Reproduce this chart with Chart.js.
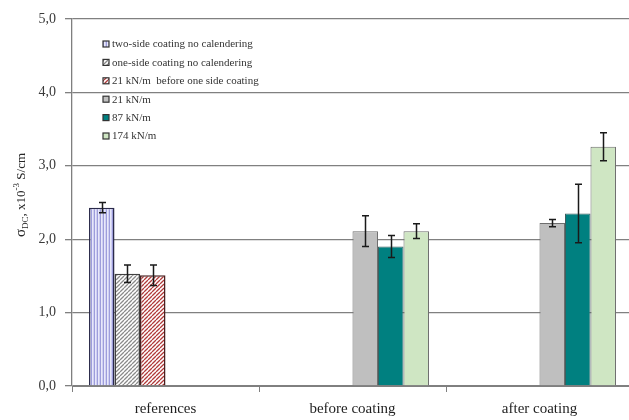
<!DOCTYPE html>
<html>
<head>
<meta charset="utf-8">
<script src="https://cdn.jsdelivr.net/npm/chart.js@4/dist/chart.umd.min.js"></script>
<style>
  html, body { margin: 0; padding: 0; background: #fff; overflow: hidden; }
  #wrap { width: 629px; height: 420px; overflow: hidden; }
  canvas { display: block; }
</style>
</head>
<body>
<div id="wrap"><canvas id="c" width="640" height="420"></canvas></div>
<script>
// Categories and measured conductivity (x10^-3 S/cm) with error margins
const categories = ['references', 'before coating', 'after coating'];
const seriesNames = [
  'two-side coating no calendering',
  'one-side coating no calendering',
  '21 kN/m  before one side coating',
  '21 kN/m',
  '87 kN/m',
  '174 kN/m'
];
const twoSideNoCal   = [2.43, null, null];
const oneSideNoCal   = [1.53, null, null];
const kn21BeforeOne  = [1.51, null, null];
const kn21           = [null, 2.11, 2.22];
const kn87           = [null, 1.90, 2.35];
const kn174          = [null, 2.11, 3.26];

const errTwoSide  = [0.07, null, null];
const errOneSide  = [0.12, null, null];
const errKn21Bef  = [0.14, null, null];
const errKn21     = [null, 0.21, 0.05];
const errKn87     = [null, 0.15, 0.40];
const errKn174    = [null, 0.10, 0.19];

const yTicks = [0, 1, 2, 3, 4, 5];

// Fill patterns
function stripePattern() {
  const p = document.createElement('canvas');
  p.width = 3; p.height = 1;
  const g = p.getContext('2d');
  const cols = ['#cfcff3', '#9d9ddb', '#e8e8fa'];
  cols.forEach((c, i) => { g.fillStyle = c; g.fillRect(i, 0, 1, 1); });
  return g.createPattern(p, 'repeat');
}
function diagPattern(line) {
  const s = 4;
  const p = document.createElement('canvas');
  p.width = s; p.height = s;
  const g = p.getContext('2d');
  g.fillStyle = '#ffffff';
  g.fillRect(0, 0, s, s);
  g.strokeStyle = line;
  g.lineWidth = 1.3;
  g.beginPath();
  for (let k = -1; k <= 1; k++) {
    g.moveTo(k * s, s);
    g.lineTo(k * s + s, 0);
  }
  g.stroke();
  return g.createPattern(p, 'repeat');
}

const fills = [stripePattern(), diagPattern('#8a8a8a'), diagPattern('#b03a3a'), '#bfbfbf', '#008080', '#cfe6c3'];
const borders = ['#2a2a4a', '#404040', '#4a2020', '#6e6e6e', '#3e5e5e', '#6e6e6e'];
const values = [twoSideNoCal, oneSideNoCal, kn21BeforeOne, kn21, kn87, kn174];
const errors = [errTwoSide, errOneSide, errKn21Bef, errKn21, errKn87, errKn174];

const datasets = seriesNames.map((name, i) => ({
  label: name,
  data: values[i],
  errors: errors[i],
  backgroundColor: fills[i],
  borderColor: borders[i],
  borderWidth: i < 3 ? 1.5 : 1,
  categoryPercentage: 0.818,
  barPercentage: 1.0
}));

const serif = "'Liberation Serif', 'Times New Roman', serif";

// Error bars drawn from the data through the value scale
const errorBars = {
  id: 'errorBars',
  afterDatasetsDraw(chart) {
    const ctx = chart.ctx;
    const ys = chart.scales.y;
    ctx.save();
    ctx.strokeStyle = '#1a1a1a';
    ctx.lineWidth = 1.5;
    chart.data.datasets.forEach((ds, di) => {
      const meta = chart.getDatasetMeta(di);
      meta.data.forEach((el, idx) => {
        const v = ds.data[idx], e = ds.errors[idx];
        if (v == null || e == null) return;
        const x = Math.round(el.x) + 0.5;
        const yT = ys.getPixelForValue(v + e);
        const yB = ys.getPixelForValue(v - e);
        ctx.beginPath();
        ctx.moveTo(x, yT); ctx.lineTo(x, yB);
        ctx.moveTo(x - 3.5, yT); ctx.lineTo(x + 3.5, yT);
        ctx.moveTo(x - 3.5, yB); ctx.lineTo(x + 3.5, yB);
        ctx.stroke();
      });
    });
    ctx.restore();
  }
};

// Legend in the upper-left of the plot
const insideLegend = {
  id: 'insideLegend',
  afterDraw(chart) {
    const ctx = chart.ctx;
    const x0 = chart.chartArea.left + 31;
    const y0 = chart.chartArea.top + 25;
    const step = 18.4;
    ctx.save();
    ctx.font = '11px ' + serif;
    ctx.textBaseline = 'middle';
    ctx.textAlign = 'left';
    chart.data.datasets.forEach((ds, i) => {
      const y = y0 + i * step;
      ctx.fillStyle = ds.backgroundColor;
      ctx.fillRect(x0, y - 3, 6, 6);
      ctx.strokeStyle = '#333';
      ctx.lineWidth = 1.2;
      ctx.strokeRect(x0, y - 3, 6, 6);
      ctx.fillStyle = '#333333';
      ctx.fillText(ds.label, x0 + 9, y + 0.5);
    });
    ctx.restore();
  }
};

// Rotated axis title with subscript and superscript
const yTitle = {
  id: 'yTitle',
  afterDraw(chart) {
    const ctx = chart.ctx;
    const parts = [
      { t: 'σ', size: 15, dy: 0 },
      { t: 'DC', size: 9, dy: 3 },
      { t: ', x10', size: 13, dy: 0 },
      { t: '-3', size: 9, dy: -6 },
      { t: ' S/cm', size: 13, dy: 0 }
    ];
    ctx.save();
    let total = 0;
    parts.forEach(p => { ctx.font = p.size + 'px ' + serif; p.w = ctx.measureText(p.t).width; total += p.w; });
    ctx.translate(25, 195);
    ctx.rotate(-Math.PI / 2);
    ctx.fillStyle = '#262626';
    ctx.textBaseline = 'alphabetic';
    let x = -total / 2;
    parts.forEach(p => {
      ctx.font = p.size + 'px ' + serif;
      ctx.fillText(p.t, x, p.dy);
      x += p.w;
    });
    ctx.restore();
  }
};

new Chart(document.getElementById('c'), {
  type: 'bar',
  data: { labels: categories, datasets },
  options: {
    responsive: false,
    animation: false,
    devicePixelRatio: 1,
    layout: { padding: { top: 19, right: 7, left: 0, bottom: 0 } },
    plugins: { legend: { display: false }, tooltip: { enabled: false } },
    scales: {
      x: {
        grid: { drawOnChartArea: false, offset: true, tickLength: 6, color: '#7f7f7f' },
        border: { display: true, color: '#7f7f7f' },
        ticks: { font: { family: serif, size: 15 }, color: '#1f1f1f', padding: 8 },
        afterFit(s) { s.height = 34; }
      },
      y: {
        min: 0, max: 5,
        afterBuildTicks(s) { s.ticks = yTicks.map(v => ({ value: v })); },
        grid: { color: '#808080', lineWidth: 1.3, tickLength: 7 },
        border: { display: true, color: '#7f7f7f', width: 1.3 },
        ticks: {
          font: { family: serif, size: 14 }, color: '#3a3a3a', padding: 9,
          callback: v => v.toFixed(1).replace('.', ',')
        },
        afterFit(s) { s.width = 72; }
      }
    }
  },
  plugins: [errorBars, insideLegend, yTitle]
});
</script>
</body>
</html>
